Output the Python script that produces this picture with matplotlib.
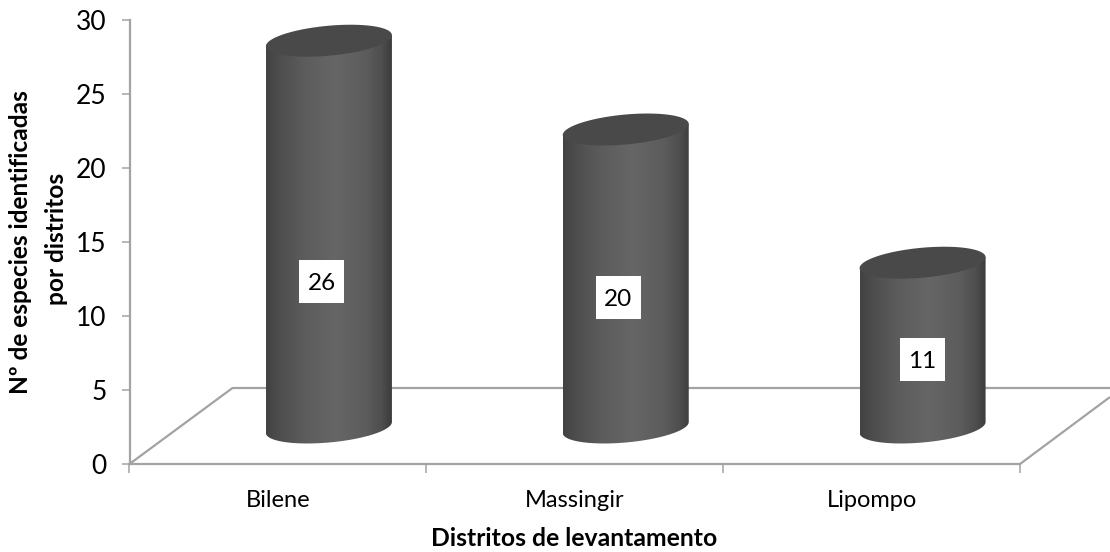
import numpy as np
import matplotlib
matplotlib.use("Agg")
import matplotlib.pyplot as plt
from matplotlib.colors import LinearSegmentedColormap
from matplotlib.patches import Polygon, Rectangle

districts = ["Bilene", "Massingir", "Lipompo"]
species_counts = [26, 20, 11]
y_ticks = [0, 5, 10, 15, 20, 25, 30]

plt.rcParams["font.family"] = ["Lato", "DejaVu Sans"]

W, H = 1110, 552
fig = plt.figure(figsize=(W / 100, H / 100), dpi=100, facecolor="white")
ax = fig.add_axes([129.5 / W, 1 - 464 / H, (1020 - 129.5) / W, (464 - 20) / H])

ax.set_xlim(-0.5, 2.5)
ax.set_ylim(0, 30)

# Pseudo-3D geometry, in data units
PX_X = 3 / (1020 - 129.5)
PX_Y = 30 / (464 - 20)
DEPTH_X, DEPTH_Y = 103 * PX_X, 76 * PX_Y
BAR_SHIFT_X, BAR_BASE = 51 * PX_X, 36.5 * PX_Y
CAP_LIFT = 2 * PX_Y
RX, RY, SKEW = 63 * PX_X, 15 * PX_Y, 5.5 * PX_Y

AXIS_GREY = "#a3a3a3"
shade = LinearSegmentedColormap.from_list(
    "cyl",
    [(0, "#424242"), (0.1, "#4d4d4d"), (0.3, "#5c5c5c"), (0.55, "#666666"),
     (0.8, "#5c5c5c"), (0.92, "#4e4e4e"), (1, "#3c3c3c")],
)

# Floor of the 3D box
right_end = -0.5 + (1110 - 129.5) * PX_X
floor_kw = dict(color=AXIS_GREY, lw=1.6, clip_on=False, zorder=1, solid_capstyle="butt")
ax.plot([-0.5, -0.5 + DEPTH_X, right_end], [0, DEPTH_Y, DEPTH_Y], **floor_kw)
ax.plot([2.5, right_end], [0, 67 * PX_Y], **floor_kw)

t = np.linspace(0, 2 * np.pi, 181)
for i, value in enumerate(species_counts):
    cx = i + BAR_SHIFT_X
    top = BAR_BASE + value + CAP_LIFT
    # lower rim left to right, then back along the upper rim
    rim = np.linspace(np.pi, 2 * np.pi, 90)
    xb = cx + RX * np.cos(rim)
    yb = BAR_BASE + RY * np.sin(rim) + SKEW * np.cos(rim)
    xt = cx + RX * np.cos(rim[::-1])
    yt = top + SKEW * np.cos(rim[::-1])
    body = Polygon(np.column_stack([np.r_[xb, xt], np.r_[yb, yt]]), closed=True,
                   transform=ax.transData, facecolor="none", edgecolor="none")
    ax.add_patch(body)
    im = ax.imshow(np.linspace(0, 1, 256)[None, :], cmap=shade, aspect="auto",
                   extent=[cx - RX, cx + RX, 0, 32], zorder=3)
    im.set_clip_path(body)
    # Top cap
    ax.fill(cx + RX * np.cos(t), top + RY * np.sin(t) + SKEW * np.cos(t),
            color="#494949", lw=0, zorder=4)

ax.set_xlim(-0.5, 2.5)
ax.set_ylim(0, 30)

# Value labels sit on white boxes; small per-bar nudges in data units
label_nudge_x = [-0.0236, -0.0246, 0.0]
label_nudge_y = [-0.64, 1.28, 1.53]
BOX_W, BOX_H = 45 * PX_X, 43 * PX_Y
for i, value in enumerate(species_counts):
    lx = i + BAR_SHIFT_X + label_nudge_x[i]
    ly = value / 2 + label_nudge_y[i]
    ax.add_patch(Rectangle((lx - BOX_W / 2, ly - BOX_H / 2), BOX_W, BOX_H,
                           facecolor="white", edgecolor="none", zorder=6))
    ax.text(lx, ly, str(value), ha="center", va="center_baseline",
            fontsize=17.5, color="black", zorder=7)

for side in ("top", "right"):
    ax.spines[side].set_visible(False)
for side in ("left", "bottom"):
    ax.spines[side].set_color(AXIS_GREY)
    ax.spines[side].set_linewidth(1.6)

ax.set_yticks(y_ticks)
ax.set_xticks([-0.5, 0.5, 1.5, 2.5])
ax.set_xticklabels([])
ax.set_xticks([0, 1, 2], minor=True)
ax.set_xticklabels(districts, minor=True)
ax.tick_params(axis="x", which="major", length=6.5, width=1.1, color=AXIS_GREY)
ax.tick_params(axis="x", which="minor", length=0, pad=19, labelsize=17)
ax.tick_params(axis="y", length=6, width=1.1, color=AXIS_GREY, pad=10.5, labelsize=19)

fig.text(574 / W, 1 - 539 / H, "Distritos de levantamento", ha="center", va="center",
         fontsize=17.8, fontweight="bold")
fig.text(21 / W, 1 - 242 / H, "Nº de especies identificadas", ha="center",
         va="center", rotation=90, fontsize=17.6, fontweight="bold")
fig.text(56 / W, 1 - 239 / H, "por distritos", ha="center",
         va="center", rotation=90, fontsize=17.6, fontweight="bold")

fig.savefig("out.png", dpi=100, facecolor="white")
